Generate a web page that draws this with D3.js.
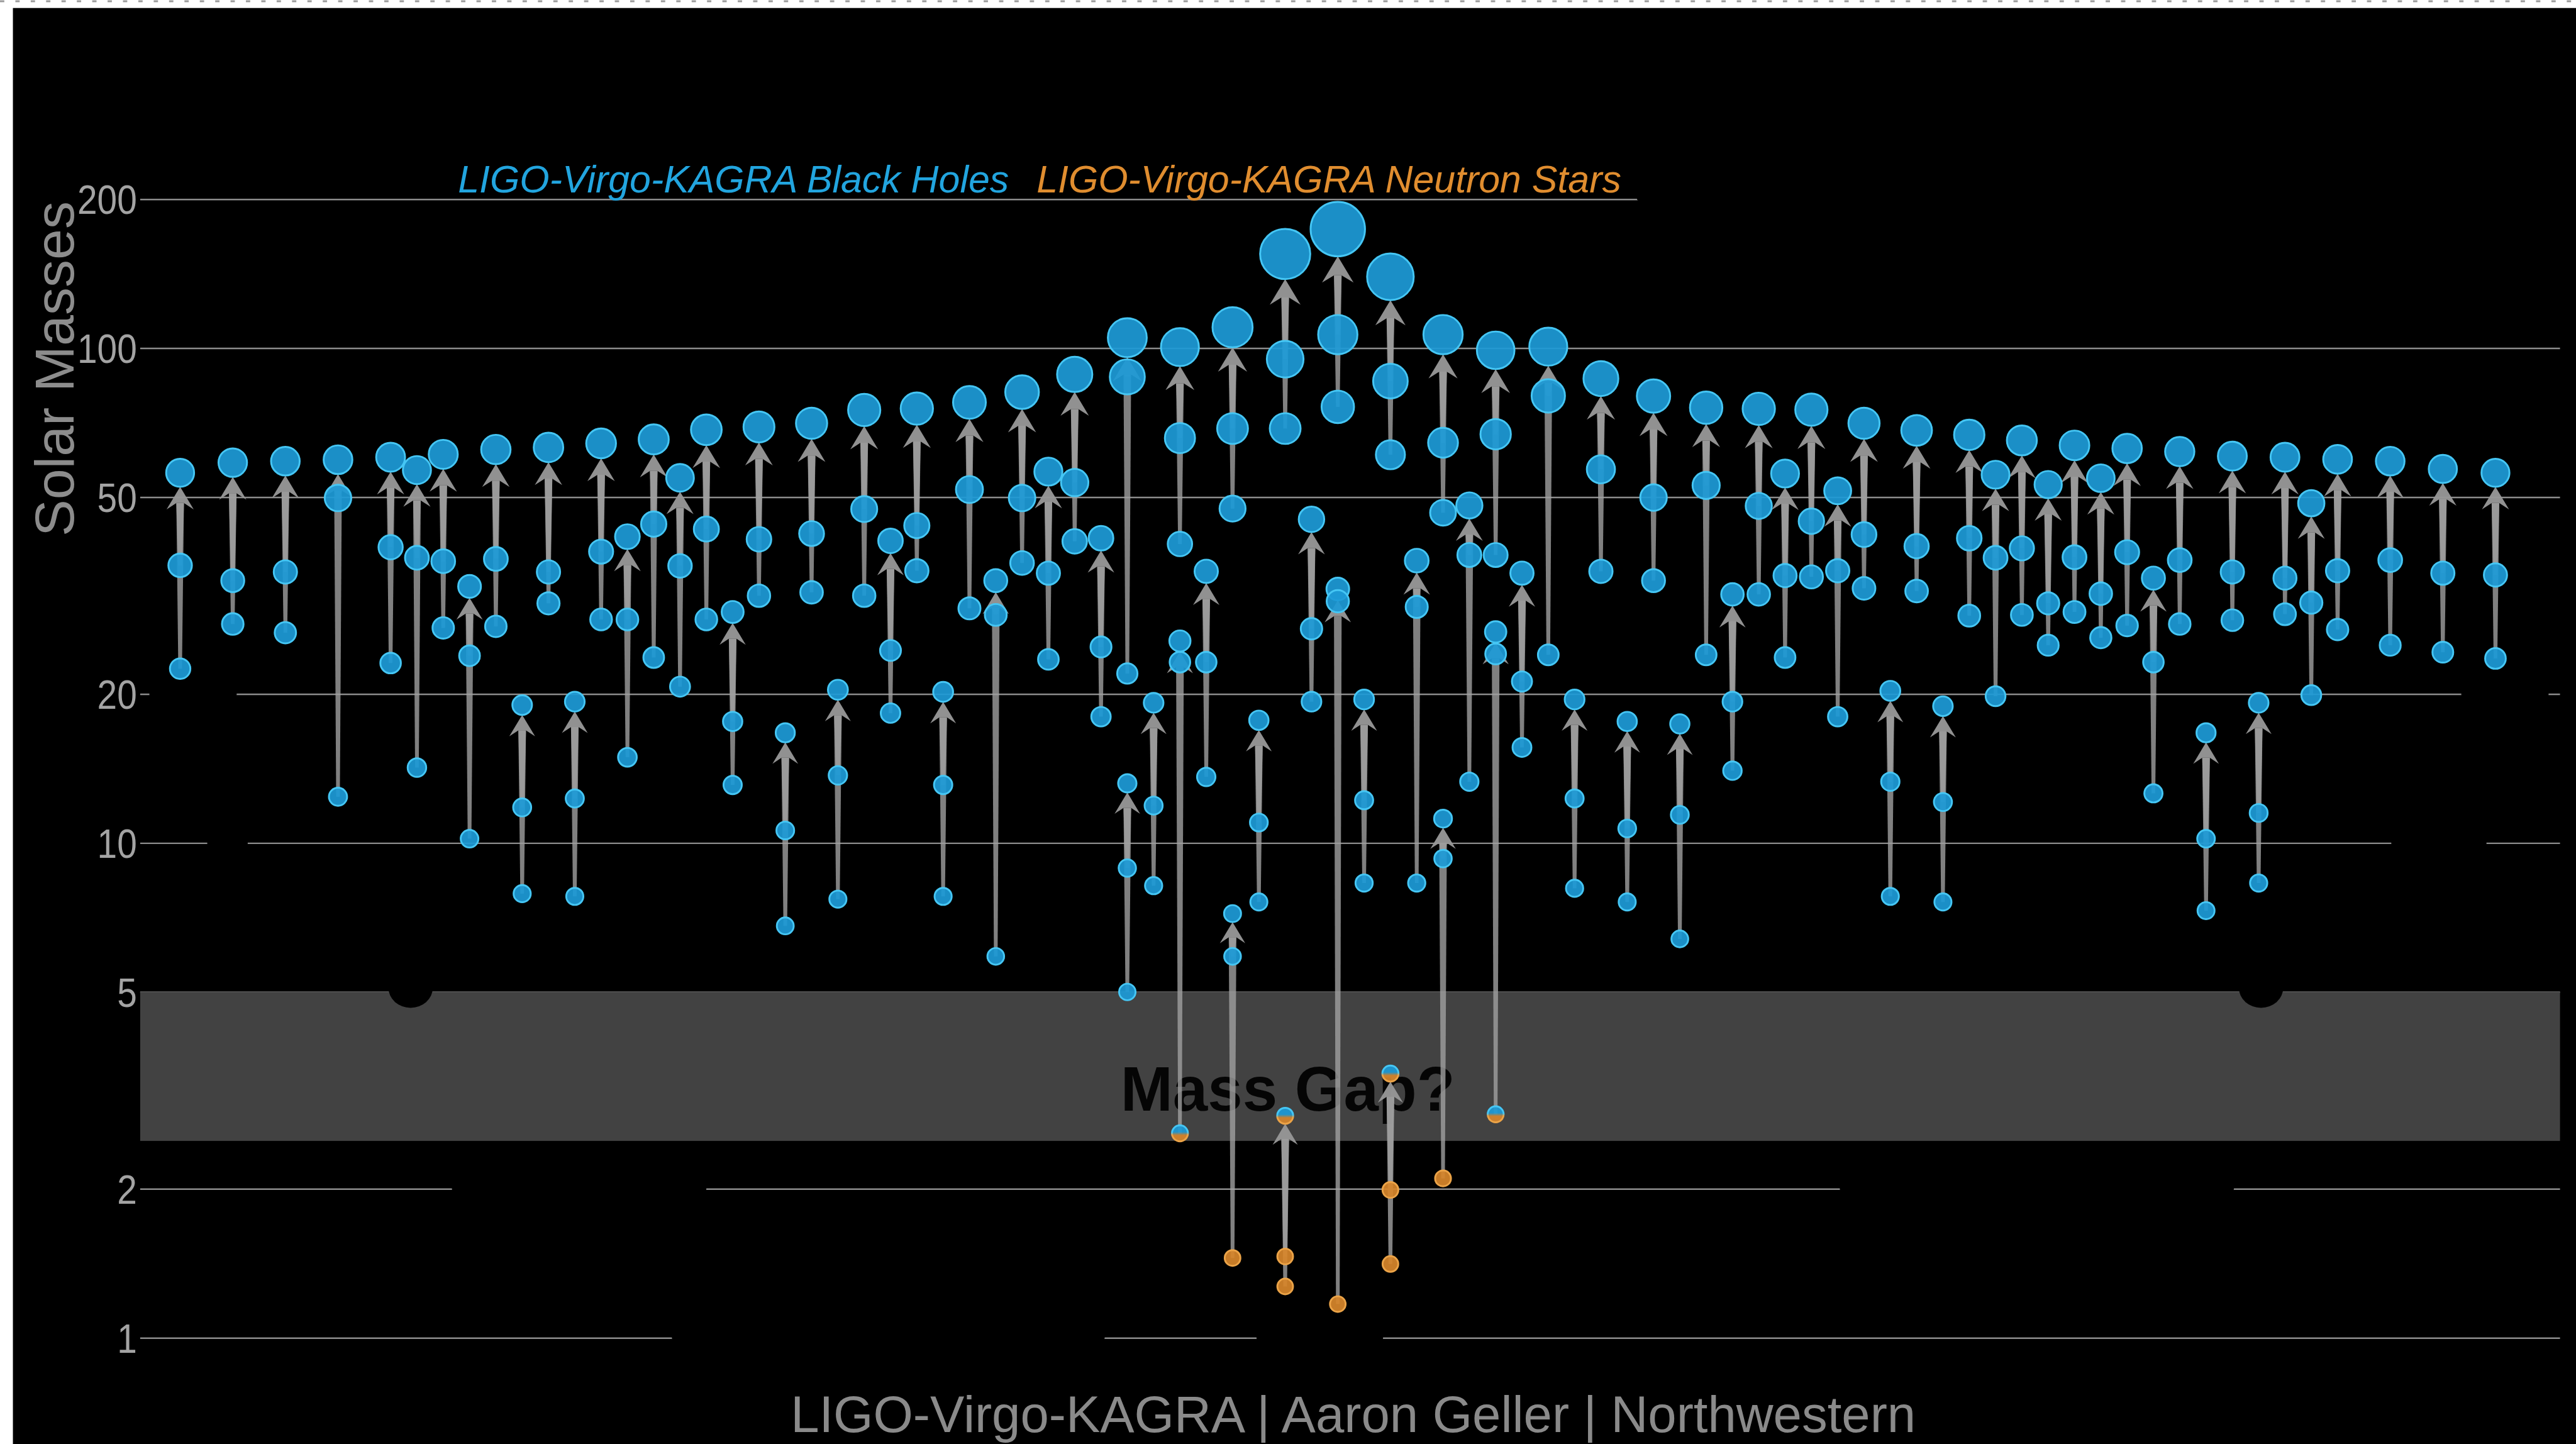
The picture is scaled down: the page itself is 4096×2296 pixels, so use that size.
<!DOCTYPE html>
<html>
<head>
<meta charset="utf-8">
<script src="https://cdn.jsdelivr.net/npm/d3@7"></script>
<style>
  html, body { margin: 0; padding: 0; background: #000; overflow: hidden; }
  svg { display: block; }
</style>
</head>
<body>
<svg id="chart" width="4096" height="2296"></svg>
<script>
// ---- Data -------------------------------------------------------------
// Horizontal slot of each merger (a few central slots hold two mergers)
const eventSlot = [
  0, 2, 4, 6, 8, 9, 10, 11, 12, 13, 14, 15, 16, 17, 18, 19, 20, 21, 22, 23,
  24, 25, 26, 27, 28, 29, 30, 31, 32, 33, 34, 35, 36, 36, 37, 38, 38, 39, 40, 40,
  41, 42, 42, 43, 44, 44, 45, 46, 46, 47, 48, 48, 49, 50, 50, 51, 52, 53, 54, 55,
  56, 57, 58, 59, 60, 61, 62, 63, 64, 65, 66, 67, 68, 69, 70, 71, 72, 73, 74, 75,
  76, 77, 78, 79, 80, 81, 82, 84, 86, 88
];
// Remnant mass (solar masses)
const finalMass = [
  56.0, 58.7, 59.1, 59.5, 60.2, 56.7, 61.0, 33.0, 62.4, 19.0, 63.0, 19.3, 64.2, 41.6, 65.4, 54.7, 68.4, 29.3, 69.3, 16.7,
  70.5, 20.4, 75.0, 40.8, 75.5, 20.2, 77.7, 33.9, 81.5, 56.3, 88.5, 41.3, 105.0, 13.2, 19.2, 100.5, 25.6, 35.4, 110.2, 7.2,
  17.7, 155.0, 2.81, 45.1, 174.0, 32.6, 19.5, 139.4, 3.42, 37.2, 106.5, 11.2, 48.1, 99.0, 26.7, 35.1, 100.7, 19.5, 86.8, 17.6,
  80.0, 17.4, 75.8, 31.8, 75.4, 55.8, 75.1, 51.5, 70.5, 20.3, 68.2, 18.9, 66.8, 55.5, 65.1, 53.0, 63.6, 54.6, 62.7, 34.3,
  61.8, 16.7, 60.5, 19.2, 60.2, 48.6, 59.6, 59.1, 57.0, 56.0
];
// Heavier component
const primaryMass = [
  36.4, 33.9, 35.3, 49.8, 39.6, 37.7, 37.1, 23.9, 37.5, 11.8, 35.3, 12.3, 38.8, 28.3, 44.1, 36.3, 43.1, 17.6, 41.1, 10.6,
  42.2, 13.7, 47.3, 24.5, 43.8, 13.1, 51.8, 28.9, 49.8, 35.1, 53.5, 24.9, 87.5, 8.9, 11.9, 65.8, 23.2, 23.2, 68.8, 5.9,
  11.0, 95.0, 1.46, 27.1, 106.5, 30.8, 12.2, 85.8, 1.99, 30.0, 64.4, 9.3, 38.2, 67.0, 24.1, 21.2, 80.1, 12.3, 56.9, 10.7,
  49.9, 11.4, 52.8, 19.3, 48.0, 34.7, 44.7, 35.5, 42.0, 13.3, 39.8, 12.1, 41.3, 37.7, 39.4, 30.5, 37.8, 31.9, 38.7, 23.2,
  37.3, 10.2, 35.3, 11.5, 34.3, 30.6, 35.5, 37.3, 35.1, 34.8
];
// Lighter component
const secondaryMass = [
  22.5, 27.7, 26.6, 12.4, 23.1, 14.2, 27.2, 10.2, 27.4, 7.9, 30.5, 7.8, 28.3, 14.9, 23.7, 20.7, 28.3, 13.1, 31.6, 6.8,
  32.1, 7.7, 31.6, 18.3, 35.5, 7.8, 29.8, 5.9, 36.8, 23.5, 40.7, 18.0, 22.0, 5.0, 8.2, 40.2, 2.59, 13.6, 47.4, 1.45,
  7.6, 68.8, 1.27, 19.3, 76.1, 1.17, 8.3, 60.9, 1.41, 8.3, 46.5, 2.10, 13.3, 38.2, 2.83, 15.6, 24.0, 8.1, 35.4, 7.6,
  33.9, 6.4, 24.0, 14.0, 31.8, 23.7, 34.5, 18.0, 32.7, 7.8, 32.3, 7.6, 28.8, 19.8, 28.9, 25.1, 29.3, 26.0, 27.5, 12.6,
  27.7, 7.3, 28.2, 8.3, 29.0, 19.9, 27.0, 25.1, 24.3, 23.6
];

// Axis ticks
const tickValues = [1, 2, 5, 10, 20, 50, 100, 200];
const tickLabels = ["1", "2", "5", "10", "20", "50", "100", "200"];

// Dark (unlit) objects lying across the grid: slot span and mass
const darkFrom = [-1.17, 1.03, 7.92, 78.25, 10.33, 63.08, 18.69, 40.91, 84.04, 86.70, 55.37];
const darkTo   = [ 2.15, 2.57, 9.60, 79.93, 20.00, 78.06, 35.14, 45.72, 87.66, 90.02, 90.80];
const darkMass = [ 20,   10,   5.09, 5.09,  2,     2,     1,     1,     10,    20,    200  ];

// Mass gap band
const gapLow = 2.5, gapHigh = 5;

// ---- Layout ----------------------------------------------------------
const W = 4190, H = 2349;
const S = 4096 / 4190;
const plotLeft = 228, plotRight = 4164;
const FONT = "'Liberation Sans', Arial, Helvetica, sans-serif";

const svg = d3.select("#chart");
const defs = svg.append("defs");
const root = svg.append("g").attr("transform", `scale(${S})`);

const x = d3.scaleLinear().domain([0, 88]).range([293, 4059]);
const y = d3.scaleLog().domain([1, 200]).range([2176, 324]);
const r = d3.scaleLinear().domain([0, 200]).range([12.5, 49]);

// Background and page margins
root.append("rect").attr("width", W).attr("height", H).attr("fill", "#000");
root.append("rect").attr("x", 0).attr("y", 0).attr("width", 21).attr("height", H).attr("fill", "#fff");
root.append("rect").attr("x", 0).attr("y", 0).attr("width", W).attr("height", 13).attr("fill", "#fff");
root.append("line").attr("x1", 0).attr("x2", W).attr("y1", 2).attr("y2", 2)
  .attr("stroke", "#9a9a9a").attr("stroke-width", 3).attr("stroke-dasharray", "7 18");

// Gradients for objects inside the mass gap (black hole above / neutron star below)
const gf = defs.append("linearGradient").attr("id", "gapFill")
  .attr("x1", 0).attr("y1", 0).attr("x2", 0).attr("y2", 1);
gf.append("stop").attr("offset", "0%").attr("stop-color", "#1d9ad6");
gf.append("stop").attr("offset", "42%").attr("stop-color", "#1d9ad6");
gf.append("stop").attr("offset", "62%").attr("stop-color", "#d6852b");
gf.append("stop").attr("offset", "100%").attr("stop-color", "#d6852b");
const gs = defs.append("linearGradient").attr("id", "gapStroke")
  .attr("x1", 0).attr("y1", 0).attr("x2", 0).attr("y2", 1);
gs.append("stop").attr("offset", "0%").attr("stop-color", "#45c6f4");
gs.append("stop").attr("offset", "45%").attr("stop-color", "#45c6f4");
gs.append("stop").attr("offset", "60%").attr("stop-color", "#eba347");
gs.append("stop").attr("offset", "100%").attr("stop-color", "#eba347");

// ---- Axis & grid -----------------------------------------------------
const axis = d3.axisLeft(y)
  .tickValues(tickValues)
  .tickFormat(d => tickLabels[tickValues.indexOf(d)])
  .tickSize(-(plotRight - plotLeft))
  .tickPadding(6);
const gAxis = root.append("g").attr("transform", `translate(${plotLeft},0)`).call(axis);
gAxis.select(".domain").remove();
gAxis.selectAll(".tick line").attr("stroke", "#8c8c8c").attr("stroke-width", 2.5);
gAxis.selectAll(".tick text")
  .attr("fill", "#a3a3a3")
  .attr("font-family", FONT)
  .attr("font-size", 66)
  .attr("dy", "0.36em")
  .attr("transform", "scale(0.88,1)");

// Mass gap band
root.append("rect")
  .attr("x", plotLeft).attr("width", plotRight - plotLeft)
  .attr("y", y(gapHigh)).attr("height", y(gapLow) - y(gapHigh))
  .attr("fill", "#424242");

// Dark objects (drawn in black, visible only where they cross the grid)
root.append("g").selectAll("ellipse")
  .data(darkMass.map((m, i) => ({ m, a: darkFrom[i], b: darkTo[i] })))
  .join("ellipse")
  .attr("cx", d => (x(d.a) + x(d.b)) / 2)
  .attr("cy", d => y(d.m))
  .attr("rx", d => (x(d.b) - x(d.a)) / 2)
  .attr("ry", d => Math.min((x(d.b) - x(d.a)) / 2, 32))
  .attr("fill", "#000");

// Mass gap label
root.append("text")
  .attr("x", x(42.1)).attr("y", y(2.88))
  .attr("text-anchor", "middle")
  .attr("font-family", FONT).attr("font-weight", "bold")
  .attr("font-size", 102).attr("fill", "#050505")
  .text("Mass Gap?");

// ---- Mergers -----------------------------------------------------------
const events = eventSlot.map((s, i) => ({
  slot: s, final: finalMass[i], m1: primaryMass[i], m2: secondaryMass[i]
}));

function kind(m) { return m < 2.3 ? "ns" : (m < 4.5 ? "gap" : "bh"); }
const fillOf = { bh: "#1d9ad6", ns: "#d6852b", gap: "url(#gapFill)" };
const strokeOf = { bh: "#45c6f4", ns: "#eba347", gap: "url(#gapStroke)" };

// Tapered arrows from each component up to the remnant
const arrowG = root.append("g");
events.forEach(e => {
  const cx = x(e.slot);
  const tip = y(e.final) + r(e.final);
  const L = 34 + 0.05 * e.final;
  const hw = L * 0.6;
  const base = tip + L;
  const neck = base - L * 0.28;
  [e.m1, e.m2].forEach(p => {
    const yp = y(p);
    if (yp <= neck) return;
    const wt = 3.0, wh = 6.2;
    arrowG.append("path")
      .attr("d", `M${cx - wt},${yp} L${cx + wt},${yp} L${cx + wh},${neck} L${cx - wh},${neck} Z`)
      .attr("fill", "#a0a0a0").attr("fill-opacity", 0.8);
  });
  arrowG.append("path")
    .attr("d", `M${cx},${tip} L${cx + hw},${base} L${cx + 6},${neck} L${cx - 6},${neck} L${cx - hw},${base} Z`)
    .attr("fill", "#979797").attr("fill-opacity", 0.96);
});

// Remnants first, then the components on top
const dotData = [];
events.forEach(e => dotData.push({ slot: e.slot, m: e.final }));
events.forEach(e => { dotData.push({ slot: e.slot, m: e.m1 }); dotData.push({ slot: e.slot, m: e.m2 }); });

root.append("g").selectAll("circle")
  .data(dotData)
  .join("circle")
  .attr("cx", d => x(d.slot))
  .attr("cy", d => y(d.m))
  .attr("r", d => r(d.m))
  .attr("fill", d => fillOf[kind(d.m)])
  .attr("fill-opacity", 0.93)
  .attr("stroke", d => strokeOf[kind(d.m)])
  .attr("stroke-width", 3);

// ---- Texts -----------------------------------------------------------
root.append("text")
  .attr("x", 745).attr("y", 313)
  .attr("font-family", FONT).attr("font-style", "italic").attr("font-size", 62)
  .attr("fill", "#22a5df")
  .attr("textLength", 896).attr("lengthAdjust", "spacingAndGlyphs")
  .text("LIGO-Virgo-KAGRA Black Holes");
root.append("text")
  .attr("x", 1686).attr("y", 313)
  .attr("font-family", FONT).attr("font-style", "italic").attr("font-size", 62)
  .attr("fill", "#e08d2f")
  .attr("textLength", 951).attr("lengthAdjust", "spacingAndGlyphs")
  .text("LIGO-Virgo-KAGRA Neutron Stars");

root.append("text")
  .attr("transform", "translate(120,600) rotate(-90)")
  .attr("text-anchor", "middle")
  .attr("font-family", FONT).attr("font-size", 90)
  .attr("fill", "#8c8c8c")
  .text("Solar Masses");

root.append("text")
  .attr("x", 2201).attr("y", 2329)
  .attr("text-anchor", "middle")
  .attr("font-family", FONT).attr("font-size", 83)
  .attr("fill", "#8a8a8a")
  .attr("textLength", 1830).attr("lengthAdjust", "spacingAndGlyphs")
  .text("LIGO-Virgo-KAGRA | Aaron Geller | Northwestern");
</script>
</body>
</html>
